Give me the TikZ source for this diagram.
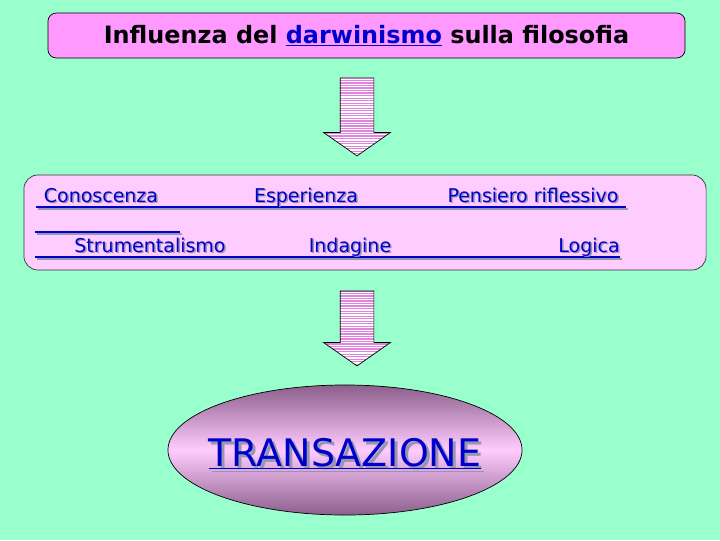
\documentclass[tikz,border=0pt]{standalone}
\usepackage{xcolor}
\usepackage{fontspec}
\setmainfont{DejaVu Sans}
\usepackage{tikz}
\usetikzlibrary{shapes.geometric, shapes.arrows, positioning}
\definecolor{sfondo}{RGB}{153,255,204}
\definecolor{rosatit}{RGB}{255,153,255}
\definecolor{rosabox}{RGB}{255,204,255}
\definecolor{blu}{RGB}{0,0,204}
\definecolor{ombra}{RGB}{150,150,175}
\definecolor{righe}{RGB}{225,130,225}
\definecolor{viola}{RGB}{140,95,140}
\tikzset{
  titolo/.style={rectangle, draw=black, fill=rosatit,
    minimum width=15.925cm, minimum height=1.125cm, inner sep=0pt,
    rounded corners=6pt, line width=0.5pt,
    font=\fontsize{17}{20}\selectfont\bfseries},
  riquadro/.style={rectangle, draw=black!80, fill=rosabox,
    minimum width=17.05cm, minimum height=2.375cm, inner sep=0pt,
    rounded corners=10pt, line width=0.5pt},
  freccia/.style={single arrow, draw=black, shape border rotate=270,
    line width=0.5pt, fill=white, inner sep=0.4125cm,
    single arrow head extend=0.4125cm, single arrow tip angle=110,
    path picture={
      \foreach \k in {0,...,45}
        \draw[righe, line width=0.9pt]
          ([yshift=-\k*1.8pt]path picture bounding box.north west) --
          ([yshift=-\k*1.8pt]path picture bounding box.north east);
    }},
  ovale/.style={ellipse, draw=black, line width=0.5pt,
    minimum width=8.85cm, minimum height=3.25cm, inner sep=0pt,
    top color=viola, bottom color=viola, middle color=rosabox},
  voce/.style={font=\fontsize{13.5}{16}\selectfont, text=blu,
    inner sep=0pt, anchor=base},
  voceombra/.style={voce, text=ombra},
  grande/.style={font=\fontsize{27}{30}\selectfont, text=blu,
    inner sep=0pt, anchor=base},
  grandeombra/.style={grande, text=ombra},
  riga/.style={draw=blu, line width=1.5pt},
  rigaombra/.style={draw=ombra, line width=1.5pt}
}

\begin{document}
\begin{tikzpicture}[x=0.025cm, y=-0.025cm]
  % Background
  \fill[sfondo] (0,0) rectangle (720,540);
  \useasboundingbox (0,0) rectangle (720,540);

  % Title
  \node[titolo] (tit) at (366.5,35.5)
    {Influenza del \textcolor{blu}{\underline{darwinismo}} sulla filosofia};

  % First arrow
  \node[freccia, minimum height=1.95cm] (f1) at (357,111) {};

  % Box with the keywords
  \node[riquadro] (box) at (365,222.5) {};

  % Underlines (shadow first)
  \draw[rigaombra] (38,209) -- (628,209);
  \draw[rigaombra] (37,234) -- (182,234);
  \draw[rigaombra] (37,259) -- (622,259);
  \draw[riga] (36,207) -- (626,207);
  \draw[riga] (35,232) -- (180,232);
  \draw[riga] (35,257) -- (620,257);

  % Keywords
  \foreach \nome/\px/\py/\testo in {cono/101/202/Conoscenza,
      espe/306/202/Esperienza, pens/533/202/Pensiero riflessivo,
      stru/150/252/Strumentalismo, inda/350/252/Indagine,
      logi/589/252/Logica} {
    \node[voceombra] at (\px+1.5,\py+1.5) {\testo};
    \node[voce] (\nome) at (\px,\py) {\testo};
  }

  % Second arrow
  \node[freccia, minimum height=1.875cm] (f2) at (357,322.5) {};

  % Ellipse
  \node[ovale] (ell) at (345,450) {};
  \node[grandeombra] at (348,469) {\underline{TRANSAZIONE}};
  \node[grande] (trans) at (345,466) {\underline{TRANSAZIONE}};
\end{tikzpicture}
\end{document}
